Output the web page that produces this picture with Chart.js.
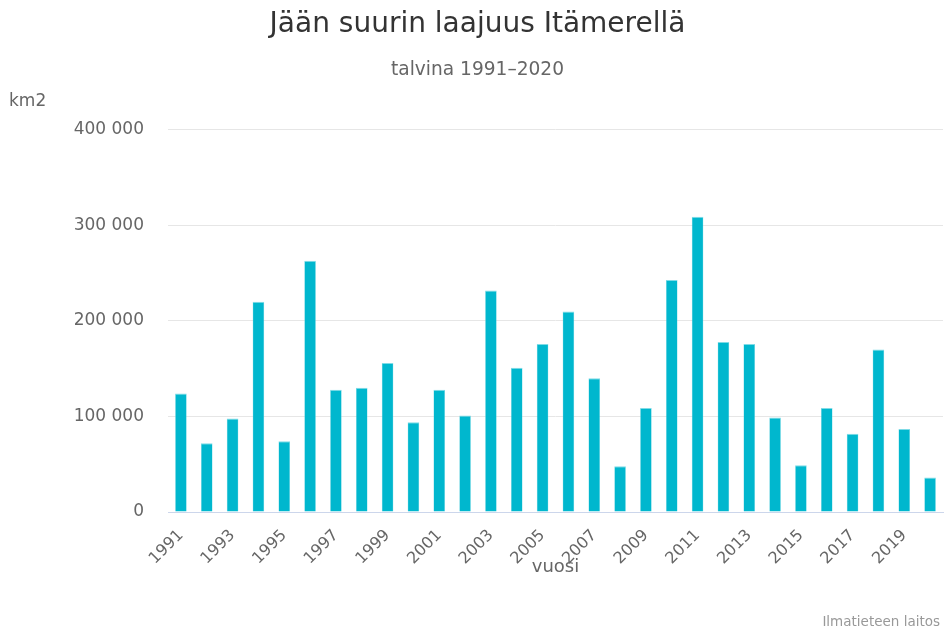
<!DOCTYPE html>
<html>
<head>
<meta charset="utf-8">
<script src="https://cdn.jsdelivr.net/npm/chart.js@4/dist/chart.umd.min.js"></script>
<style>
  html, body { margin: 0; padding: 0; background: #fff; }
  #wrap { width: 944px; height: 630px; }
</style>
</head>
<body>
<div id="wrap"><canvas id="chart" width="944" height="630"></canvas></div>
<script>
// talvet 1991-2020
const years = ['1991', '1992', '1993', '1994', '1995', '1996', '1997', '1998', '1999', '2000',
    '2001', '2002', '2003', '2004', '2005', '2006', '2007', '2008', '2009', '2010',
    '2011', '2012', '2013', '2014', '2015', '2016', '2017', '2018', '2019', '2020'];

// jään suurin laajuus, km2
const iceExtent = [124000, 72000, 98000, 220000, 74000, 263000, 128000, 130000, 156000, 94000,
    128000, 101000, 232000, 151000, 176000, 210000, 140000, 48000, 109000, 243000,
    309000, 178000, 176000, 99000, 49000, 109000, 82000, 170000, 87000, 36000];

const yTicks = [0, 100000, 200000, 300000, 400000];

const font = 'DejaVu Sans';

// väli tuhaterottimeksi
const fmt = v => String(v).replace(/\B(?=(\d{3})+(?!\d))/g, ' ');

// km2-otsikko ja lähde
const extraText = {
    id: 'extraText',
    afterDraw(chart) {
        const ctx = chart.ctx;
        ctx.save();
        ctx.fillStyle = '#666';
        ctx.font = '17px "' + font + '"';
        ctx.textAlign = 'left';
        ctx.textBaseline = 'middle';
        ctx.fillText('km2', 9, chart.chartArea.top - 28);
        ctx.fillStyle = '#999';
        ctx.font = '13.5px "' + font + '"';
        ctx.textAlign = 'right';
        ctx.textBaseline = 'alphabetic';
        ctx.fillText('Ilmatieteen laitos', 940, 626);
        ctx.restore();
    }
};

new Chart(document.querySelector('#chart'), {
    type: 'bar',
    data: {
        labels: years,
        datasets: [
            {
                label: 'Jään suurin laajuus',
                data: iceExtent,
                backgroundColor: '#00b7ce',
                borderColor: '#7fdbe6',
                borderWidth: { top: 1, left: 0.5, right: 0.5, bottom: 0 },
                barPercentage: 0.45,
                categoryPercentage: 1
            }
        ]
    },
    options: {
        responsive: false,
        animation: false,
        layout: { padding: { left: 12, right: 1, top: 0, bottom: 40 } },
        plugins: {
            legend: { display: false },
            tooltip: { enabled: false },
            title: {
                display: true,
                text: 'Jään suurin laajuus Itämerellä',
                color: '#333',
                font: { family: font, size: 28, weight: 'normal' },
                padding: { top: 8, bottom: 0 }
            },
            subtitle: {
                display: true,
                text: 'talvina 1991–2020',
                color: '#666',
                font: { family: font, size: 18.6, weight: 'normal' },
                padding: { top: 17, bottom: 49 }
            }
        },
        scales: {
            x: {
                grid: { display: false },
                border: { color: '#ccd6eb' },
                ticks: {
                    autoSkip: false,
                    maxRotation: 45,
                    minRotation: 45,
                    color: '#666',
                    padding: 6,
                    font: { family: font, size: 16 },
                    callback: (v, i) => (i % 2 === 0 ? years[i] : '')
                },
                title: {
                    display: true,
                    text: 'vuosi',
                    color: '#666',
                    font: { family: font, size: 18 },
                    padding: { top: 0, bottom: 12 }
                },
                afterFit: s => {
                    s.height = 78;
                    s.paddingLeft = 0;
                    s.paddingRight = 0;
                }
            },
            y: {
                min: 0,
                max: 400000,
                afterBuildTicks: s => { s.ticks = yTicks.map(v => ({ value: v })); },
                grid: { color: '#e6e6e6', drawTicks: false },
                border: { display: false },
                ticks: {
                    color: '#666',
                    padding: 24,
                    font: { family: font, size: 17 },
                    callback: v => fmt(v)
                },
                afterFit: s => { s.width = 156; }
            }
        }
    },
    plugins: [extraText]
});
</script>
</body>
</html>
